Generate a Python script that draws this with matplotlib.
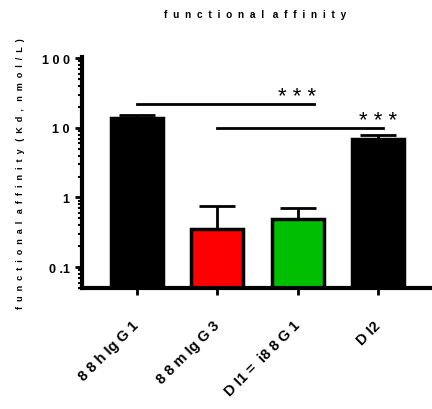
import numpy as np
import matplotlib.pyplot as plt
from matplotlib.ticker import LogLocator, FixedFormatter, FixedLocator

plt.rcParams['font.family'] = ['Liberation Sans', 'DejaVu Sans']


def spread(s, gap="  "):
    # wide letter spacing, as in the exported Prism graph
    return (gap + " ").join(gap.join(w) for w in s.split(" "))


# Kd values (nmol/L) with upper SD
groups = ["8 8 h Ig G 1", "8 8 m Ig G 3", "D I1 =  i8 8 G 1", "D I2"]
kd_mean = [13.9, 0.35, 0.49, 7.0]
kd_err = [1.4, 0.41, 0.21, 1.0]
bar_colors = ["black", "#ff0000", "#00bf00", "black"]

# significance brackets
sig_x = [(0, 2.2), (1, 3.06)]
sig_y = [22, 10]
star_x = [1.99, 3.0]
sig_labels = ["* * *", "* * *"]

fig = plt.figure(figsize=(4.32, 4.10), dpi=100)
ax = fig.add_axes([0.19, 0.295, 0.81, 0.564])

x = np.arange(len(groups))
ax.bar(x, kd_mean, width=0.65, color=bar_colors, edgecolor="black",
       linewidth=2.5, zorder=2)
ax.errorbar(x, kd_mean, yerr=[np.zeros(len(kd_err)), kd_err], fmt="none",
            ecolor="black", elinewidth=2, capsize=13, capthick=2, zorder=1)

ax.set_yscale("log")
ax.set_ylim(0.05, 105)
ax.set_xlim(-0.68, 3.67)

ax.yaxis.set_major_locator(FixedLocator([0.1, 1, 10, 100]))
ax.yaxis.set_major_formatter(FixedFormatter(["0 .1", "1", "1 0", "1 0 0"]))
ax.yaxis.set_minor_locator(LogLocator(base=10, subs=np.arange(2, 10)))
ax.tick_params(axis="y", which="major", length=5, width=2, labelsize=9, pad=4)
ax.tick_params(axis="y", which="minor", length=3, width=1.5)
for lbl in ax.get_yticklabels():
    lbl.set_fontweight("bold")

ax.set_xticks(x)
ax.set_xticklabels(groups, rotation=45, ha="right", va="center",
                   rotation_mode="anchor", fontsize=10.5, fontweight="bold")
ax.tick_params(axis="x", length=5, width=2, pad=20)

for side in ("top", "right"):
    ax.spines[side].set_visible(False)
for side in ("left", "bottom"):
    ax.spines[side].set_linewidth(3)

# significance lines
for (x0, x1), y, sx, txt in zip(sig_x, sig_y, star_x, sig_labels):
    ax.plot([x0, x1], [y, y], color="black", linewidth=2, clip_on=False)
    ax.text(sx, y * 1.06, txt, ha="center", va="baseline", fontsize=16)

ax.set_ylabel(spread("functional affinity (Kd, nmol/L)"),
              fontsize=6.5, fontweight="bold", labelpad=12)
fig.text(0.59, 0.963, spread("functional affinity"), ha="center",
         va="center", fontsize=7.3, fontweight="bold")

fig.savefig("out.png", dpi=100)
